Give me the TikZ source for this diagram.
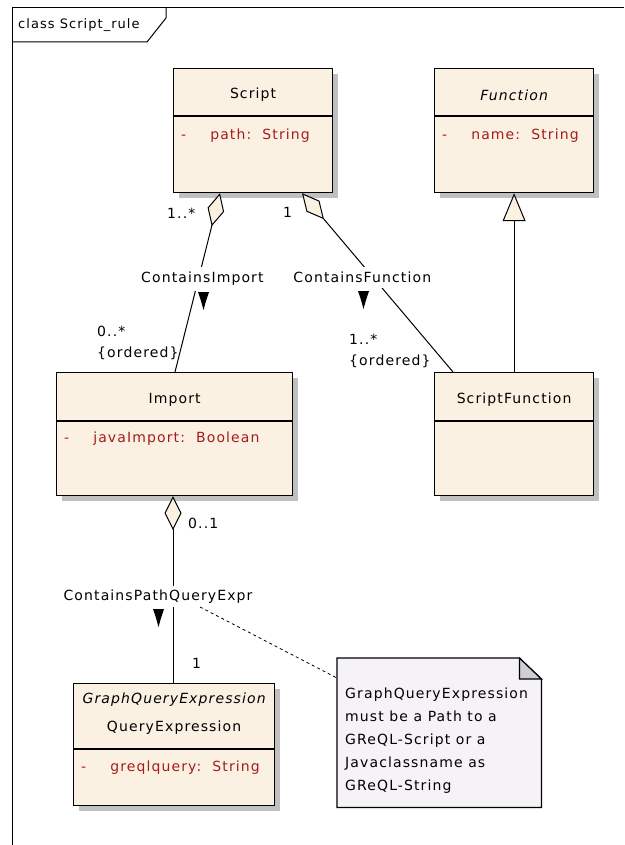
\documentclass[tikz,border=0pt]{standalone}
\usepackage{fontspec}
\newfontfamily\umlfont{DejaVu Sans}[LetterSpace=8]
\definecolor{ClassFill}{RGB}{251,241,227}
\definecolor{NoteFill}{RGB}{246,243,247}
\definecolor{FoldGray}{RGB}{208,206,212}
\definecolor{ShadowGray}{RGB}{192,192,192}
\definecolor{AttrRed}{RGB}{165,28,28}
\usepackage{tikz}
\usetikzlibrary{positioning,arrows.meta,shadows}

\begin{document}
\begin{tikzpicture}[x=1pt,y=-1pt,
      every node/.style={font=\umlfont\fontsize{14}{16}\selectfont},
      cls/.style={draw=black,line width=1.2pt,fill=ClassFill,anchor=north west,inner sep=0pt,
                  drop shadow={shadow xshift=5pt,shadow yshift=-5pt,fill=ShadowGray,opacity=1}},
      ttl/.style={inner sep=0pt},
      attr/.style={anchor=west,inner sep=0pt,text=AttrRed},
      assoc/.style={line width=1pt,-{Diamond[length=34pt,width=17pt,fill=ClassFill]}},
      asname/.style={fill=white,inner xsep=2pt,inner ysep=5pt},
      mult/.style={inner sep=0pt,anchor=west,align=left,font=\umlfont\fontsize{14}{21}\selectfont}]
    \useasboundingbox (0,0) rectangle (624,845);
    \draw[line width=1pt] (12,845) -- (12,8) -- (624,8);
    \draw[line width=1pt] (12,42) -- (147,42) -- (166,18) -- (166,8);
    \node[anchor=west,inner sep=0pt,font=\umlfont\fontsize{13}{15}\selectfont] (frametitle) at (18,25) {class Script\_rule};

    \node[cls,minimum width=159pt,minimum height=124pt] (script) at (173,68) {};
    \draw[line width=1.2pt] ([yshift=-48pt]script.north west) -- ([yshift=-48pt]script.north east);
    \node[ttl] (scriptname) at ([yshift=-27pt]script.north) {Script};
    \node[attr] (scriptpath) at ([xshift=8pt,yshift=-68pt]script.north west) {-\hspace{24pt}path:\ \ String};

    \node[cls,minimum width=159pt,minimum height=124pt] (func) at (434,68) {};
    \draw[line width=1.2pt] ([yshift=-48pt]func.north west) -- ([yshift=-48pt]func.north east);
    \node[ttl] (funcname) at ([yshift=-27pt]func.north) {\itshape Function};
    \node[attr] (funcattr) at ([xshift=8pt,yshift=-68pt]func.north west) {-\hspace{24pt}name:\ \ String};

    \node[cls,minimum width=236pt,minimum height=123pt] (import) at (56,372) {};
    \draw[line width=1.2pt] ([yshift=-49pt]import.north west) -- ([yshift=-49pt]import.north east);
    \node[ttl] (importname) at ([yshift=-28pt]import.north) {Import};
    \node[attr] (importattr) at ([xshift=8pt,yshift=-67pt]import.north west) {-\hspace{24pt}javaImport:\ \ Boolean};

    \node[cls,minimum width=159pt,minimum height=123pt] (sfunc) at (434,372) {};
    \draw[line width=1.2pt] ([yshift=-49pt]sfunc.north west) -- ([yshift=-49pt]sfunc.north east);
    \node[ttl] (sfuncname) at ([yshift=-28pt]sfunc.north) {ScriptFunction};

    \node[cls,minimum width=201pt,minimum height=122pt] (qexpr) at (73,683) {};
    \draw[line width=1.2pt] ([yshift=-66pt]qexpr.north west) -- ([yshift=-66pt]qexpr.north east);
    \node[ttl] (qexprstereo) at ([yshift=-17pt]qexpr.north) {\itshape GraphQueryExpression};
    \node[ttl] (qexprname) at ([yshift=-45pt]qexpr.north) {QueryExpression};
    \node[attr] (qexprattr) at ([xshift=8pt,yshift=-85pt]qexpr.north west) {-\hspace{24pt}greqlquery:\ \ String};

    \node[anchor=north west,minimum width=204pt,minimum height=149pt,inner sep=0pt] (note) at (337,658) {};
    \filldraw[line width=1.2pt,fill=NoteFill] (note.north west) -- ([xshift=-22pt]note.north east)
      -- ([yshift=-21pt]note.north east) -- (note.south east) -- (note.south west) -- cycle;
    \filldraw[line width=1.2pt,fill=FoldGray] ([xshift=-22pt]note.north east)
      -- ([xshift=-22pt,yshift=-21pt]note.north east) -- ([yshift=-21pt]note.north east) -- cycle;
    \node[anchor=west,align=left,inner sep=0pt,font=\umlfont\fontsize{14}{23}\selectfont] (notetext) at (345,741)
      {GraphQueryExpression\\must be a Path to a\\GReQL-Script or a\\Javaclassname as\\GReQL-String};

    \draw[assoc] ([xshift=119pt]import.north west) -- node[asname,pos=0.52,xshift=4pt] (impname) {ContainsImport} ([xshift=47pt]script.south west);
    \draw[assoc] ([xshift=19pt]sfunc.north west) -- node[asname,pos=0.528,xshift=-11pt] (funname) {ContainsFunction} ([xshift=129pt]script.south west);
    \draw[assoc] ([xshift=100pt]qexpr.north west) -- node[asname,inner ysep=4pt,pos=0.463,xshift=-15pt] (pathname) {ContainsPathQueryExpr} ([xshift=117pt]import.south west);
    \draw[line width=1pt,-{Triangle[length=28pt,width=23pt,fill=ClassFill]}] (sfunc.north) -- (func.south);

    \coordinate (notelink) at (200,607);
    \draw[line width=0.8pt,dash pattern=on 3pt off 3pt] (notelink) -- ([yshift=-20pt]note.north west);

    \fill (198,292) -- (209,292) -- (206,301) -- (203.5,310) -- (201,301) -- cycle;
    \fill (358,291) -- (369,291) -- (366,300) -- (363.5,309) -- (361,300) -- cycle;
    \fill (153,609) -- (164,609) -- (161,618) -- (158.5,627) -- (156,618) -- cycle;

    \node[mult] (impsrc) at (167,213) {1..*};
    \node[mult] (funsrc) at (283,212) {1};
    \node[mult] (imptgt) at (97,343) {0..*\\\{ordered\}};
    \node[mult] (funtgt) at (349,351) {1..*\\\{ordered\}};
    \node[mult] (pathsrc) at (188,523) {0..1};
    \node[mult] (pathtgt) at (192,663) {1};
  \end{tikzpicture}
\end{document}
